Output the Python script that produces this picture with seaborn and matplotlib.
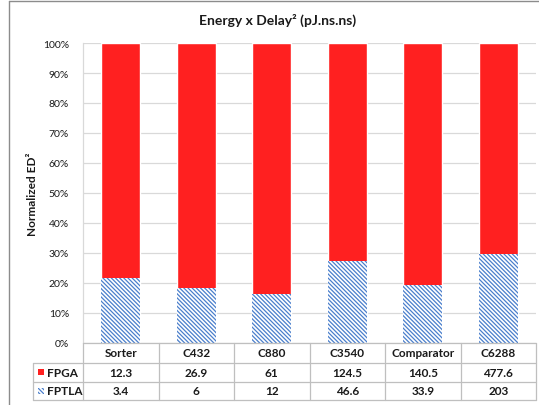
import matplotlib
matplotlib.use("Agg")
import matplotlib.pyplot as plt
import seaborn as sns
from matplotlib.lines import Line2D
from matplotlib.patches import Rectangle

# Energy x Delay^2 per benchmark circuit (pJ.ns.ns)
circuits = ["Sorter", "C432", "C880", "C3540", "Comparator", "C6288"]
fpga_ed2 = [12.3, 26.9, 61, 124.5, 140.5, 477.6]
fptla_ed2 = [3.4, 6, 12, 46.6, 33.9, 203]
fpga_labels = ["12.3", "26.9", "61", "124.5", "140.5", "477.6"]
fptla_labels = ["3.4", "6", "12", "46.6", "33.9", "203"]
y_ticks = [0, 10, 20, 30, 40, 50, 60, 70, 80, 90, 100]

# normalised shares (stacked to 100%)
fptla_share = [100 * b / (a + b) for a, b in zip(fpga_ed2, fptla_ed2)]
stack_total = [100 * (a + b) / (a + b) for a, b in zip(fpga_ed2, fptla_ed2)]

sns.set_theme(style="white")
plt.rcParams['font.family'] = ['Lato', 'DejaVu Sans']
plt.rcParams['hatch.linewidth'] = 0.9

W, H = 539, 406
fig = plt.figure(figsize=(W / 100, H / 100), dpi=100)
ax_left, ax_right, ax_top, ax_bot = 83, 536, 44, 344
ax = fig.add_axes([ax_left / W, 1 - ax_bot / H, (ax_right - ax_left) / W, (ax_bot - ax_top) / H])

RED = '#ff2020'
BLUE = '#4a7fcc'
GRID = '#d9d9d9'
TABLE = '#bfbfbf'
TXT = '#1a1a1a'
HATCH = '\\' * 8

sns.barplot(x=circuits, y=stack_total, color=RED, saturation=1, width=0.52, ax=ax, zorder=2)
sns.barplot(x=circuits, y=fptla_share, color='white', saturation=1, width=0.52, ax=ax, zorder=3)
for p in ax.containers[1]:
    p.set_hatch(HATCH)
    p.set_edgecolor(BLUE)
    p.set_linewidth(0)

ax.set_xlim(-0.5, len(circuits) - 0.5)
ax.set_ylim(0, 100)
ax.set_yticks(y_ticks)
ax.set_yticklabels([f"{v}%" for v in y_ticks], fontsize=7.5, color=TXT)
ax.tick_params(axis='y', length=0, pad=10)
ax.set_xticks([])
ax.set_xlabel("")
ax.set_ylabel("")
ax.yaxis.grid(True, color=GRID, lw=0.9)
ax.set_axisbelow(True)
for s in ['top', 'right', 'bottom']:
    ax.spines[s].set_visible(False)
ax.spines['left'].set_color(GRID)
ax.spines['left'].set_linewidth(0.9)

# data table below the plot area (axes coordinates)
px = 1 / (ax_bot - ax_top)
pxx = 1 / (ax_right - ax_left)
rows_y = [0, -20 * px, -38.5 * px, -57 * px]
legend_x = (33 - ax_left) * pxx
n = len(circuits)
lkw = dict(transform=ax.transAxes, color=TABLE, lw=0.9, clip_on=False, zorder=5)
ax.add_line(Line2D([0, 1], [rows_y[0]] * 2, **lkw))
for yv in rows_y[1:]:
    ax.add_line(Line2D([legend_x, 1], [yv] * 2, **lkw))
for i in range(n + 1):
    ax.add_line(Line2D([i / n] * 2, [rows_y[0], rows_y[3]], **lkw))
ax.add_line(Line2D([legend_x] * 2, [rows_y[1], rows_y[3]], **lkw))

tkw = dict(transform=ax.transAxes, ha='center', va='center', fontsize=8.5,
           fontweight='bold', color=TXT, clip_on=False)
for i, name in enumerate(circuits):
    xc = (i + 0.5) / n
    ax.text(xc, (rows_y[0] + rows_y[1]) / 2, name, **tkw)
    ax.text(xc, (rows_y[1] + rows_y[2]) / 2, fpga_labels[i], **tkw)
    ax.text(xc, (rows_y[2] + rows_y[3]) / 2, fptla_labels[i], **tkw)

# legend keys inside the table
key = 6
for r, (lab, style) in enumerate([("FPGA", 'fpga'), ("FPTLA", 'fptla')]):
    yc = (rows_y[r + 1] + rows_y[r + 2]) / 2
    kx = (38 - ax_left) * pxx
    rect = Rectangle((kx, yc - key / 2 * px), key * pxx, key * px, transform=ax.transAxes,
                     clip_on=False, zorder=6, linewidth=0)
    if style == 'fpga':
        rect.set_facecolor(RED)
    else:
        rect.set_facecolor('white')
        rect.set_edgecolor(BLUE)
        rect.set_hatch(HATCH)
    ax.add_patch(rect)
    ax.text((47 - ax_left) * pxx, yc, lab, transform=ax.transAxes, ha='left', va='center',
            fontsize=8.5, fontweight='bold', color=TXT, clip_on=False)

fig.text(278 / W, 1 - 20 / H, "Energy x Delay² (pJ.ns.ns)", ha='center', va='center',
         fontsize=10, fontweight='bold', color=TXT)
fig.text(33 / W, 1 - ((ax_top + ax_bot) / 2) / H, "Normalized ED²", rotation=90,
         ha='center', va='center', fontsize=8.5, fontweight='bold', color=TXT)

# chart frame
fig.add_artist(Line2D([9 / W, 9 / W], [0, 1 - 2 / H], transform=fig.transFigure, color='#8c8c8c', lw=1))
fig.add_artist(Line2D([9 / W, 1], [1 - 2 / H, 1 - 2 / H], transform=fig.transFigure, color='#8c8c8c', lw=1))

fig.savefig("out.png", dpi=100)
